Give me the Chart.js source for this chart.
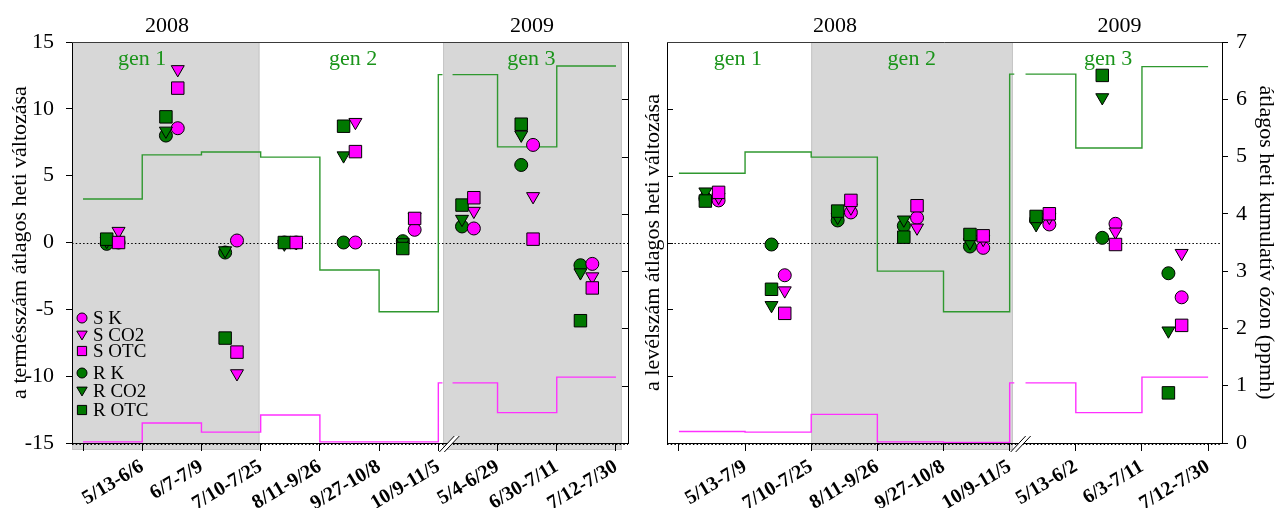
<!DOCTYPE html>
<html>
<head>
<meta charset="utf-8">
<script src="https://cdn.jsdelivr.net/npm/chart.js@4.4.0/dist/chart.umd.min.js"></script>
<style>
  html, body { margin: 0; padding: 0; background: #fff; }
  #wrap { position: relative; width: 1283px; height: 508px; overflow: hidden; }
  canvas { position: absolute; top: 0; }
</style>
</head>
<body>
<div id="wrap">
  <canvas id="fruit" width="640" height="508" style="left:0;width:640px;height:508px"></canvas>
  <canvas id="leaf" width="643" height="508" style="left:640px;width:643px;height:508px"></canvas>
</div>
<script>
// ---- fruit count panel (left) ----
const fruitPeriods = ['5/13-6/6', '6/7-7/9', '7/10-7/25', '8/11-9/26', '9/27-10/8',
                      '10/9-11/5', '5/4-6/29', '6/30-7/11', '7/12-7/30'];
const fruitSK   = [0.0, 8.55, 0.15, 0.0, 0.0, 0.95, 1.05, 7.3, -1.6];
const fruitSCO2 = [0.85, 12.95, -9.8, 0.0, 9.0, 1.9, 2.35, 3.45, -2.55];
const fruitSOTC = [0.0, 11.55, -8.2, 0.0, 6.8, 1.8, 3.35, 0.25, -3.4];
const fruitRK   = [-0.1, 8.0, -0.75, 0.0, 0.0, 0.1, 1.2, 5.8, -1.7];
const fruitRCO2 = [0.1, 8.35, -0.6, -0.1, 6.5, 0.0, 1.75, 8.05, -2.25];
const fruitROTC = [0.25, 9.4, -7.15, 0.0, 8.7, -0.45, 2.8, 8.85, -5.85];
const fruitOzoneGreen = [4.26, 5.03, 5.08, 4.99, 3.02, 2.29, 6.43, 5.17, 6.58];
const fruitOzonePink  = [0.02, 0.35, 0.19, 0.49, 0.02, 0.02, 1.05, 0.53, 1.15];

// ---- leaf count panel (right) ----
const leafPeriods = ['5/13-7/9', '7/10-7/25', '8/11-9/26', '9/27-10/8', '10/9-11/5',
                     '5/13-6/2', '6/3-7/11', '7/12-7/30'];
const leafSK   = [0.63, -0.49, 0.45, 0.37, -0.08, 0.27, 0.28, -0.82];
const leafSCO2 = [0.68, -0.72, 0.52, 0.22, 0.05, 0.38, 0.16, -0.16];
const leafSOTC = [0.75, -1.06, 0.63, 0.55, 0.10, 0.43, -0.03, -1.24];
const leafRK   = [0.66, -0.03, 0.33, 0.25, -0.06, 0.34, 0.07, -0.46];
const leafRCO2 = [0.76, -0.94, 0.38, 0.34, 0.0, 0.27, 2.17, -1.32];
const leafROTC = [0.62, -0.70, 0.47, 0.08, 0.12, 0.39, 2.50, -2.25];
const leafOzoneGreen = [4.71, 5.08, 4.99, 3.00, 2.29, 6.44, 5.15, 6.57];
const leafOzonePink  = [0.20, 0.19, 0.50, 0.02, 0.01, 1.05, 0.53, 1.15];

const fruitTicksLeft = [-15, -10, -5, 0, 5, 10, 15];
const ozoneTicks = [0, 1, 2, 3, 4, 5, 6, 7];

const SERIF = '"Liberation Serif", "Times New Roman", "DejaVu Serif", serif';
const MAGENTA = '#ff00ff';
const GREEN = '#007800';
const LINE_GREEN = '#2f982f';
const LINE_PINK = '#ff30ff';
const TEXT_GREEN = '#1a941a';

const markerSpec = {
  circle:   { pointStyle: 'circle',   radius: 6.5, rotation: 0 },
  triangle: { pointStyle: 'triangle', radius: 7.5, rotation: 180 },
  rect:     { pointStyle: 'rect',     radius: 8.8, rotation: 0 }
};

function seriesList(sk, sco2, sotc, rk, rco2, rotc) {
  return [
    { label: 'S K',   values: sk,   color: MAGENTA, shape: 'circle',   shift: 0.6, order: 3 },
    { label: 'S CO2', values: sco2, color: MAGENTA, shape: 'triangle', shift: 0.6, order: 2 },
    { label: 'S OTC', values: sotc, color: MAGENTA, shape: 'rect',     shift: 0.6, order: 1 },
    { label: 'R K',   values: rk,   color: GREEN,   shape: 'circle',   shift: 0.4, order: 3 },
    { label: 'R CO2', values: rco2, color: GREEN,   shape: 'triangle', shift: 0.4, order: 2 },
    { label: 'R OTC', values: rotc, color: GREEN,   shape: 'rect',     shift: 0.4, order: 1 }
  ];
}

// stepped ozone line (each value holds over its period), with a short gap after the year break
function stepData(vals, breakAt) {
  const pts = [];
  vals.forEach((v, i) => {
    pts.push({ x: i, y: v });
    if (i === breakAt) {
      pts.push({ x: i + 0.07, y: v });
      pts.push({ x: i + 0.08, y: null });
      pts.push({ x: i + 0.24, y: v });
    }
  });
  pts.push({ x: vals.length, y: vals[vals.length - 1] });
  return pts;
}

function drawShape(ctx, shape, x, y, s) {
  ctx.beginPath();
  if (shape === 'circle') {
    ctx.arc(x, y, s, 0, Math.PI * 2);
  } else if (shape === 'triangle') {
    ctx.moveTo(x - s, y - s * 0.75);
    ctx.lineTo(x + s, y - s * 0.75);
    ctx.lineTo(x, y + s * 0.95);
    ctx.closePath();
  } else {
    ctx.rect(x - s, y - s, 2 * s, 2 * s);
  }
  ctx.fill();
  ctx.stroke();
}

function makePanel(cfg) {
  const n = cfg.periods.length;
  const series = cfg.series;

  const datasets = [];
  datasets.push({
    type: 'line', yAxisID: 'y2', data: stepData(cfg.ozoneGreen, cfg.breakAt),
    stepped: 'before', borderColor: LINE_GREEN, borderWidth: 1.4, pointRadius: 0,
    fill: false, spanGaps: false, order: 10
  });
  datasets.push({
    type: 'line', yAxisID: 'y2', data: stepData(cfg.ozonePink, cfg.breakAt),
    stepped: 'before', borderColor: LINE_PINK, borderWidth: 1.4, pointRadius: 0,
    fill: false, spanGaps: false, order: 10
  });
  series.forEach(s => {
    const m = markerSpec[s.shape];
    datasets.push({
      type: 'line', label: s.label, yAxisID: 'y', showLine: false,
      data: s.values.map((v, i) => ({ x: i + s.shift, y: v })),
      pointStyle: m.pointStyle, pointRadius: m.radius, pointRotation: m.rotation,
      pointBackgroundColor: s.color, pointBorderColor: '#000', pointBorderWidth: 1,
      order: s.order, clip: false
    });
  });

  const decor = {
    id: 'decor',
    beforeDraw(chart) {
      const { ctx, chartArea: a, scales } = chart;
      const xs = scales.x;
      ctx.save();
      cfg.bands.forEach(([from, to]) => {
        const x0 = from === null ? a.left : xs.getPixelForValue(from);
        const x1 = to === null ? a.right : xs.getPixelForValue(to);
        ctx.fillStyle = '#d7d7d7';
        ctx.fillRect(x0, a.top, x1 - x0, a.bottom - a.top + 7);
        ctx.strokeStyle = '#c6c6c6';
        ctx.lineWidth = 1;
        ctx.strokeRect(x0 + 0.5, a.top + 0.5, x1 - x0 - 1, a.bottom - a.top + 6);
      });
      ctx.restore();
    },
    beforeDatasetsDraw(chart) {
      const { ctx, chartArea: a, scales } = chart;
      const y0 = Math.round(scales.y.getPixelForValue(0)) + 0.5;
      ctx.save();
      ctx.strokeStyle = '#000';
      ctx.lineWidth = 1.2;
      ctx.setLineDash([1.5, 2.2]);
      ctx.beginPath();
      ctx.moveTo(a.left, y0);
      ctx.lineTo(a.right, y0);
      ctx.stroke();
      // dotted trace under the category axis
      ctx.beginPath();
      ctx.moveTo(a.left, a.bottom + 1.5);
      ctx.lineTo(a.right, a.bottom + 1.5);
      ctx.stroke();
      ctx.restore();
    },
    afterDraw(chart) {
      const { ctx, chartArea: a, scales } = chart;
      const xs = scales.x;
      ctx.save();
      // top frame line
      ctx.strokeStyle = '#3a3a3a';
      ctx.lineWidth = 1;
      ctx.beginPath();
      ctx.moveTo(a.left, a.top + 0.5);
      ctx.lineTo(a.right, a.top + 0.5);
      ctx.stroke();

      // inward ticks
      ctx.strokeStyle = '#000';
      ctx.beginPath();
      cfg.inward.forEach(t => {
        const sc = scales[t.axis];
        t.values.forEach(v => {
          const y = Math.round(sc.getPixelForValue(v)) + 0.5;
          if (t.side === 'left') { ctx.moveTo(a.left, y); ctx.lineTo(a.left + 6, y); }
          else { ctx.moveTo(a.right, y); ctx.lineTo(a.right - 6, y); }
        });
      });
      ctx.stroke();

      // axis break marks
      const bx = xs.getPixelForValue(cfg.breakAt) + 1;
      const by = a.bottom;
      ctx.fillStyle = '#ffffff';
      ctx.beginPath();
      ctx.moveTo(bx, by + 9); ctx.lineTo(bx + 15, by - 7);
      ctx.lineTo(bx + 20, by - 7); ctx.lineTo(bx + 5, by + 9);
      ctx.closePath();
      ctx.fill();
      ctx.strokeStyle = '#000';
      ctx.lineWidth = 1;
      ctx.beginPath();
      ctx.moveTo(bx, by + 9); ctx.lineTo(bx + 15, by - 7);
      ctx.moveTo(bx + 5, by + 9); ctx.lineTo(bx + 20, by - 7);
      ctx.stroke();

      // year and generation labels
      ctx.textAlign = 'center';
      ctx.textBaseline = 'alphabetic';
      ctx.font = '22px ' + SERIF;
      ctx.fillStyle = '#000';
      cfg.years.forEach(y => ctx.fillText(y.text, xs.getPixelForValue(y.at), 32));
      ctx.fillStyle = TEXT_GREEN;
      cfg.gens.forEach(g => ctx.fillText(g.text, xs.getPixelForValue(g.at), 65));

      // legend
      if (cfg.legend) {
        const rows = [318, 335, 351, 373, 391, 410];
        const size = { circle: 5, triangle: 5.2, rect: 4.6 };
        ctx.font = '19px ' + SERIF;
        ctx.textAlign = 'left';
        ctx.textBaseline = 'middle';
        ctx.lineWidth = 1;
        ctx.strokeStyle = '#000';
        series.forEach((s, i) => {
          ctx.fillStyle = s.color;
          drawShape(ctx, s.shape, a.left + 10, rows[i], size[s.shape]);
          ctx.fillStyle = '#000';
          ctx.fillText(s.label, a.left + 21, rows[i] + 1);
        });
      }
      ctx.restore();
    }
  };

  const titleFont = { family: SERIF, size: 22 };

  return new Chart(document.getElementById(cfg.canvas), {
    data: { datasets },
    options: {
      responsive: false,
      animation: false,
      devicePixelRatio: 1,
      events: [],
      layout: { padding: { top: 42, left: 0, right: 0, bottom: 0 } },
      plugins: { legend: { display: false }, tooltip: { enabled: false } },
      scales: {
        x: {
          type: 'linear', min: cfg.xMin, max: cfg.xMax, offset: false,
          afterBuildTicks: s => { s.ticks = []; for (let i = 0; i <= n; i++) s.ticks.push({ value: i }); },
          afterFit: s => { s.height = 65; },
          ticks: {
            autoSkip: false, minRotation: 31, maxRotation: 31, padding: 4, color: '#000',
            font: { family: SERIF, size: 20, weight: 'bold' },
            callback: v => { const i = Math.round(v); return i >= 1 ? cfg.periods[i - 1] : ''; }
          },
          grid: { drawOnChartArea: false, drawTicks: true, tickLength: 8, tickColor: '#000', tickWidth: 1 },
          border: { display: true, color: '#000', width: 1 }
        },
        y: {
          position: 'left', min: cfg.yMin, max: cfg.yMax,
          afterBuildTicks: s => { if (cfg.yTicks) s.ticks = cfg.yTicks.map(v => ({ value: v })); },
          afterFit: s => { s.width = cfg.leftWidth; },
          ticks: {
            display: !!cfg.yTicks, color: '#000', padding: 12,
            font: { family: SERIF, size: 22 }
          },
          grid: { drawOnChartArea: false, drawTicks: !!cfg.yTicks, tickLength: 6, tickColor: '#000' },
          border: { display: true, color: '#000', width: 1 },
          title: { display: true, text: cfg.leftTitle, color: '#000', font: titleFont, padding: { top: cfg.leftTitlePad, bottom: 0 } }
        },
        y2: {
          position: 'right', min: 0, max: 7,
          afterBuildTicks: s => { s.ticks = ozoneTicks.map(v => ({ value: v })); },
          afterFit: s => { s.width = cfg.rightWidth; },
          ticks: {
            display: cfg.ozoneLabels, color: '#000', padding: 8,
            font: { family: SERIF, size: 22 }
          },
          grid: { drawOnChartArea: false, drawTicks: cfg.ozoneLabels, tickLength: 6, tickColor: '#000' },
          border: { display: true, color: '#000', width: 1 },
          title: cfg.rightTitle
            ? { display: true, text: cfg.rightTitle, color: '#000', font: titleFont, padding: { top: 4, bottom: 0 } }
            : { display: false }
        }
      }
    },
    plugins: [decor]
  });
}

makePanel({
  canvas: 'fruit',
  periods: fruitPeriods,
  series: seriesList(fruitSK, fruitSCO2, fruitSOTC, fruitRK, fruitRCO2, fruitROTC),
  ozoneGreen: fruitOzoneGreen,
  ozonePink: fruitOzonePink,
  breakAt: 6,
  xMin: -0.186, xMax: 9.203,
  yMin: -15, yMax: 15, yTicks: fruitTicksLeft,
  leftWidth: 72, rightWidth: 12,
  leftTitle: 'a termésszám átlagos heti változása', leftTitlePad: 7,
  rightTitle: null, ozoneLabels: false,
  bands: [[null, 2.98], [6.08, 9.1]],
  inward: [{ axis: 'y2', side: 'right', values: [1, 2, 3, 4, 5, 6] }],
  years: [{ text: '2008', at: 1.42 }, { text: '2009', at: 7.58 }],
  gens: [{ text: 'gen 1', at: 1.0 }, { text: 'gen 2', at: 4.56 }, { text: 'gen 3', at: 7.57 }],
  legend: true
});

makePanel({
  canvas: 'leaf',
  periods: leafPeriods,
  series: seriesList(leafSK, leafSCO2, leafSOTC, leafRK, leafRCO2, leafROTC),
  ozoneGreen: leafOzoneGreen,
  ozonePink: leafOzonePink,
  breakAt: 5,
  xMin: -0.18, xMax: 8.21,
  yMin: -3, yMax: 3, yTicks: null,
  leftWidth: 27, rightWidth: 61,
  leftTitle: 'a levélszám átlagos heti változása', leftTitlePad: 0,
  rightTitle: 'átlagos heti kumulatív ózon (ppmh)', ozoneLabels: true,
  bands: [[2, 5.05]],
  inward: [{ axis: 'y', side: 'left', values: [-2, -1, 0, 1, 2] }],
  years: [{ text: '2008', at: 2.36 }, { text: '2009', at: 6.66 }],
  gens: [{ text: 'gen 1', at: 0.89 }, { text: 'gen 2', at: 3.52 }, { text: 'gen 3', at: 6.49 }],
  legend: false
});
</script>
</body>
</html>
